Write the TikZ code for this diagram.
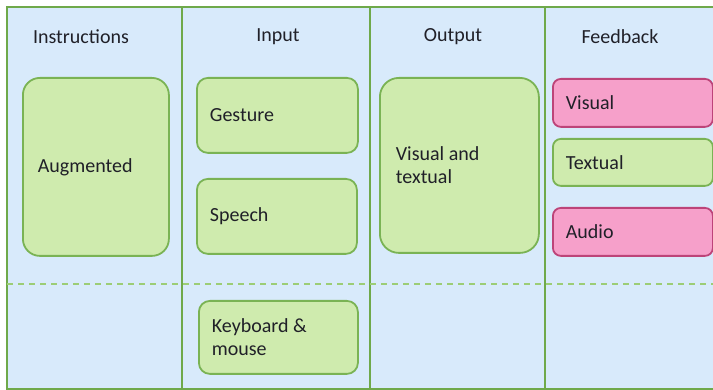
\documentclass[tikz,border=0pt]{standalone}
\usepackage{fontspec}
\setmainfont{Carlito}
\usepackage{xcolor}
\usepackage{tikz}
\usetikzlibrary{positioning}
\definecolor{bgc}{HTML}{D8EAFB}
\definecolor{colc}{HTML}{6FA94A}
\definecolor{gfill}{HTML}{CFEBAE}
\definecolor{gline}{HTML}{7AB354}
\definecolor{pfill}{HTML}{F6A0CA}
\definecolor{pline}{HTML}{BD4479}
\definecolor{dashc}{HTML}{9CCD76}
\definecolor{txtc}{HTML}{202028}
\tikzset{
  col/.style={draw=colc,line width=1.8pt,fill=bgc},
  sepline/.style={dashc,line width=1.8pt,dash pattern=on 6pt off 5pt},
  head/.style={font=\fontsize{20}{23}\selectfont,text=txtc},
  gbox/.style={draw=gline,line width=1.8pt,fill=gfill,rounded corners=11pt,anchor=north west,
    align=flush left,inner xsep=13pt,inner ysep=0pt,font=\fontsize{20}{23}\selectfont,text=txtc},
  pbox/.style={gbox,draw=pline,fill=pfill,rounded corners=8pt}
}
\begin{document}
\begin{tikzpicture}[x=1pt,y=-1pt]
\useasboundingbox (0,0) rectangle (713,390);
\clip (0,0) rectangle (713,390);
\fill[white] (0,0) rectangle (713,390);
% columns
\draw[col] (7,7) rectangle (182,389);
\draw[col] (182,7) rectangle (370,389);
\draw[col] (370,7) rectangle (545,389);
\draw[col] (545,7) rectangle (720,389);
\coordinate (sepl) at (7,284);
\coordinate (sepr) at (713,284);
\draw[sepline] (sepl) -- (sepr);
% headings
\node[head] (hinstr) at (81,37) {Instructions};
\node[head] (hinput) at (278,37) {Input};
\node[head] (houtput) at (453,37) {Output};
\node[head] (hfeed) at (620,37) {Feedback};
% boxes
\node[gbox,rounded corners=17pt,text width=116pt,minimum height=178pt,inner xsep=15pt] (augm) at (22,77) {Augmented};
\node[gbox,text width=135pt,minimum height=75pt] (gest) at (196,77) {Gesture};
\node[gbox,text width=134pt,minimum height=75pt] (speech) at (196,178) {Speech};
\node[gbox,text width=133pt,minimum height=73pt] (keyb) at (198,300) {Keyboard \&\\mouse};
\node[gbox,rounded corners=19pt,text width=127pt,minimum height=175pt,inner xsep=16pt] (vistext) at (379,77) {Visual and\\textual};
\node[pbox,text width=134pt,minimum height=48pt] (fbvis) at (552,78) {Visual};
\node[gbox,rounded corners=8pt,text width=134pt,minimum height=47pt] (fbtext) at (552,138) {Textual};
\node[pbox,text width=134pt,minimum height=48pt] (fbaudio) at (552,207) {Audio};
\end{tikzpicture}
\end{document}
